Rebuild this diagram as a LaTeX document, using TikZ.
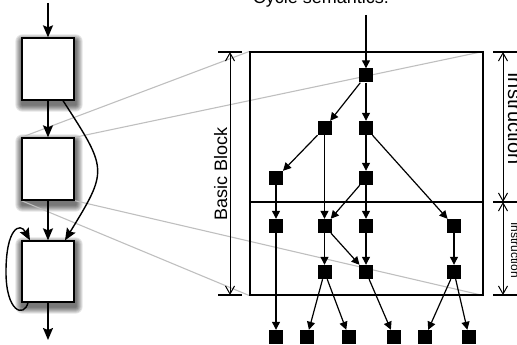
\documentclass[tikz,border=0pt]{standalone}
\usepackage{fontspec}
\setmainfont{Liberation Sans}
\usetikzlibrary{arrows.meta,backgrounds}
\begin{document}
\begin{tikzpicture}[x=1pt,y=-1pt,
  blk/.style={draw,line width=1.3pt,fill=white,minimum width=52pt,minimum height=62pt,inner sep=0pt},
  sq/.style={fill=black,minimum size=14pt,inner sep=0pt},
  tarr/.style={-{Triangle[length=8pt,width=8pt]},line width=1.2pt},
  larr/.style={-{Stealth[length=12pt,width=10pt,inset=2pt]},line width=1.4pt},
  dimarr/.style={{Straight Barb[length=8pt,width=9pt]}-{Straight Barb[length=8pt,width=9pt]},line width=1pt},
  tickline/.style={line width=1.2pt},
  ghost/.style={draw=black!25,line width=1.1pt},
]
\useasboundingbox (0,0) rectangle (517,345);

% left blocks
\node[blk] (b1) at (48,69) {};
\node[blk] (b2) at (48,169) {};
\node[blk,minimum height=61pt] (b3) at (48,271.5) {};

% right frame
\node[draw,line width=1.2pt,minimum width=233pt,minimum height=243pt,inner sep=0pt] (frame) at (366.5,173.5) {};

\begin{scope}[on background layer]
  \foreach \b in {b1,b2,b3}{
    \foreach \i in {1,...,7}{
      \fill[black,opacity=0.1,rounded corners=\i pt]
        ([xshift={(1-\i)*1pt},yshift={(-4-\i)*1pt}]\b.south west) rectangle
        ([xshift={(1+\i)*1pt},yshift={(-4+\i)*1pt}]\b.north east);
    }
  }
  \draw[ghost] (b2.north west) -- (frame.north west);
  \draw[ghost] (b2.north east) -- (frame.north east);
  \draw[ghost] (b2.south east) -- (frame.south east);
  \draw[ghost] (b2.south west) -- (frame.south west);
\end{scope}

% left connectors
\coordinate (lin) at (48,3);
\coordinate (lout) at (48,340);
\draw[larr] (lin) -- (b1);
\draw[larr] (b1) -- (b2);
\draw[larr] (b2) -- (b3);
\draw[larr] (b3) -- (lout);
\draw[larr] ([xshift=15pt]b1.south) .. controls (108,170) and (108,170) .. ([xshift=17pt]b3.north);
\coordinate (loopmid) at (6,272);
\draw[larr] ([xshift=-20pt]b3.south) .. controls (24,318) and (6,312) .. (loopmid)
  .. controls (6,228) and (20,222) .. ([xshift=-18pt]b3.north);

% divider
\coordinate (dl) at (250,202);
\coordinate (dr) at (483,202);
\draw[line width=2pt] (dl) -- (dr);

% squares
\node[sq] (n1) at (366,75.5) {};
\node[sq] (n2) at (324.5,128) {};
\node[sq] (n3) at (366,128) {};
\node[sq] (n4) at (276,178) {};
\node[sq] (n5) at (366,178) {};
\node[sq] (r2a) at (276,226) {};
\node[sq] (r2b) at (324.5,226) {};
\node[sq] (r2c) at (366,226) {};
\node[sq] (r2d) at (454,226) {};
\node[sq] (r3a) at (324.5,272) {};
\node[sq] (r3b) at (366,272) {};
\node[sq] (r3c) at (454,272) {};
\node[sq] (c1) at (276,337) {};
\node[sq] (c2) at (307,337) {};
\node[sq] (c3) at (349,337) {};
\node[sq] (c4) at (394,337) {};
\node[sq] (c5) at (425,337) {};
\node[sq] (c6) at (469,337) {};

\coordinate (tin) at (366,15);
\draw[tarr] (tin) -- (n1);
\draw[tarr] (n1) -- (n2);
\draw[tarr] (n1) -- (n3);
\draw[tarr] (n2) -- (n4);
\draw[tarr] (n2) -- (r2b);
\draw[tarr] (n3) -- (n5);
\draw[tarr] (n3) -- (r2d);
\draw[tarr] (n4) -- (r2a);
\draw[tarr] (n5) -- (r2b);
\draw[tarr] (n5) -- (r2c);
\draw[tarr] (r2a) -- (c1);
\draw[tarr] (r2b) -- (r3a);
\draw[tarr] (r2b) -- (r3b);
\draw[tarr] (r2c) -- (r3b);
\draw[tarr] (r2d) -- (r3c);
\draw[tarr] (r3a) -- (c2);
\draw[tarr] (r3a) -- (c3);
\draw[tarr] (r3b) -- (c4);
\draw[tarr] (r3c) -- (c5);
\draw[tarr] (r3c) -- (c6);

% left dimension
\coordinate (lt1) at (218,52);
\coordinate (lt2) at (242,52);
\coordinate (lb1) at (218,295);
\coordinate (lb2) at (242,295);
\coordinate (la) at (230,52);
\coordinate (lb) at (230,295);
\draw[tickline] (lt1) -- (lt2);
\draw[tickline] (lb1) -- (lb2);
\draw[dimarr] (la) -- (lb);

% right dimension
\coordinate (rt1) at (493,52);
\coordinate (rt2) at (517,52);
\coordinate (rm1) at (493,202);
\coordinate (rm2) at (517,202);
\coordinate (rb1) at (493,295);
\coordinate (rb2) at (517,295);
\coordinate (ra) at (503,52);
\coordinate (rm) at (503,202);
\coordinate (rb) at (503,295);
\draw[tickline] (rt1) -- (rt2);
\draw[tickline] (rm1) -- (rm2);
\draw[tickline] (rb1) -- (rb2);
\draw[dimarr] (ra) -- (rm);
\draw[dimarr] (rm) -- (rb);

% texts
\node[anchor=base,font=\fontsize{18}{20}\selectfont,inner sep=0pt] (title) at (321,4) {Cycle semantics:};
\node[rotate=90,anchor=base,font=\fontsize{18}{20}\selectfont,inner sep=0pt] (bbl) at (227,174) {Basic Block};
\node[rotate=-90,anchor=base,font=\fontsize{20}{22}\selectfont,inner sep=0pt] (ins1) at (508,118.5) {Instruction};
\node[rotate=-90,anchor=base,font=\fontsize{12}{14}\selectfont,inner sep=0pt] (ins2) at (511,250) {Instruction};
\end{tikzpicture}
\end{document}
